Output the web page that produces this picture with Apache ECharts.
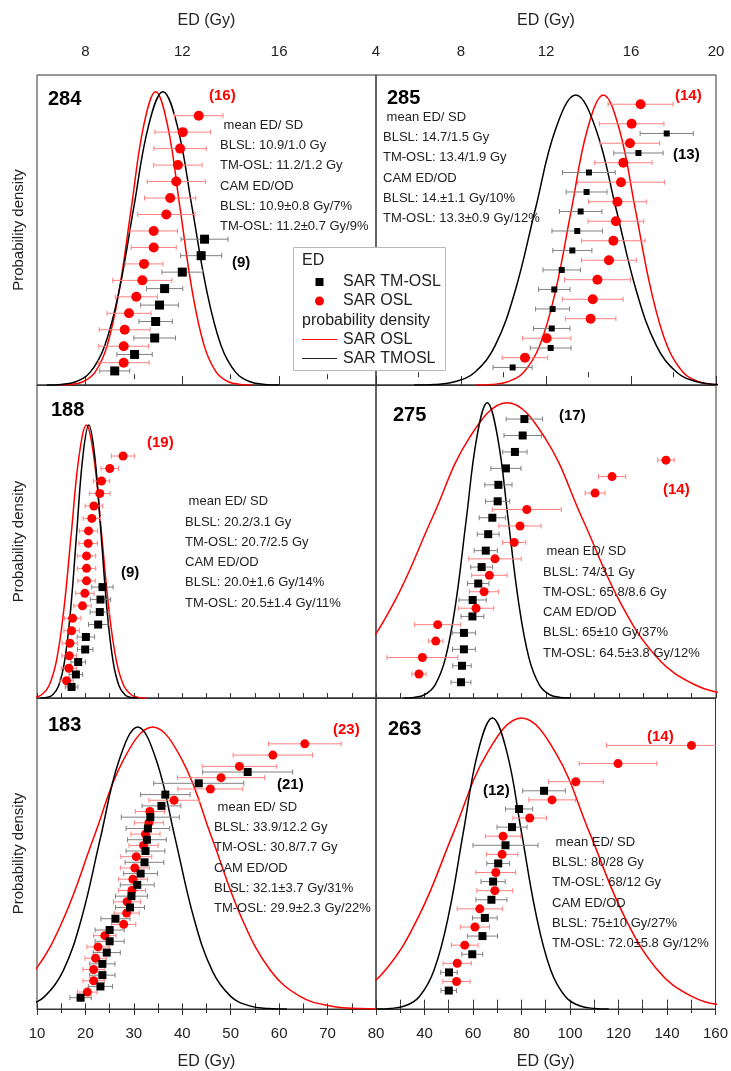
<!DOCTYPE html>
<html><head><meta charset="utf-8">
<script src="https://cdn.jsdelivr.net/npm/echarts@6/dist/echarts.min.js"></script>
<style>html,body{margin:0;padding:0;background:#fff}#c{width:731px;height:1071px}</style>
</head><body><div id="c"></div>
<script>
// ---------------- DATA ----------------
const panelIds = ['284', '285', '188', '275', '183', '263'];

// tick labels
const topTicks284 = [8, 12, 16];
const topTicks285 = [4, 8, 12, 16, 20];
const bottomTicks183 = [10, 20, 30, 40, 50, 60, 70, 80];
const bottomTicks263 = [40, 60, 80, 100, 120, 140, 160];

// Single-grain ED values (Gy), listed top to bottom, with 1-sigma errors
const ed284OSL = [12.68, 12.02, 11.91, 11.82, 11.75, 11.50, 11.34, 10.82, 10.82, 10.42, 10.35, 10.10, 9.80, 9.62, 9.58, 9.58];
const err284OSL = [1.00, 1.15, 1.08, 1.00, 1.20, 1.06, 1.18, 0.98, 0.93, 0.78, 1.22, 0.87, 0.91, 1.05, 1.03, 1.05];
const ed284TM = [12.92, 12.78, 12.00, 11.27, 11.06, 10.90, 10.86, 10.03, 9.21];
const err284TM = [0.97, 0.85, 0.84, 0.75, 0.78, 0.69, 0.86, 0.73, 0.62];

const ed285OSL = [16.45, 16.03, 15.95, 15.64, 15.53, 15.36, 15.29, 15.17, 14.96, 14.42, 14.20, 14.10, 12.03, 11.01];
const err285OSL = [1.53, 1.52, 1.40, 1.35, 2.04, 1.36, 1.31, 1.49, 1.29, 1.55, 1.43, 1.19, 1.14, 1.07];
const ed285TM = [17.68, 16.35, 14.02, 13.91, 13.63, 13.47, 13.24, 12.74, 12.39, 12.31, 12.27, 12.22, 10.43];
const err285TM = [1.25, 1.16, 1.24, 0.96, 1.00, 1.19, 0.92, 0.88, 0.74, 0.80, 0.86, 0.96, 0.92];

const ed188OSL = [27.77, 25.03, 23.32, 22.97, 21.74, 21.32, 20.64, 20.57, 20.23, 20.23, 20.23, 19.88, 19.40, 17.35, 17.14, 16.80, 16.65, 16.59, 16.11];
const err188OSL = [2.4, 1.8, 1.7, 2.1, 1.8, 1.8, 1.9, 1.9, 1.9, 1.9, 1.8, 1.9, 1.8, 1.7, 1.6, 1.6, 1.5, 1.6, 1.4];
const ed188TM = [23.52, 23.11, 22.97, 22.63, 20.09, 19.95, 18.50, 18.03, 17.14];
const err188TM = [2.2, 2.1, 2.0, 2.0, 1.8, 1.6, 1.5, 1.4, 1.3];

const ed275OSL = [139.4, 117.2, 110.2, 82.1, 79.3, 76.9, 69.0, 66.7, 64.5, 61.2, 45.4, 44.6, 39.1, 37.7];
const err275OSL = [3.4, 5.6, 4.1, 14.2, 8.7, 4.8, 10.8, 7.3, 6.0, 7.3, 9.5, 3.0, 14.6, 2.9];
const ed275TM = [81.1, 80.4, 77.2, 73.5, 70.4, 70.1, 67.9, 66.2, 65.2, 63.5, 62.1, 59.8, 59.7, 56.2, 56.2, 55.4, 55.0];
const err275TM = [7.5, 7.7, 5.0, 6.2, 5.6, 5.0, 5.4, 4.5, 4.8, 4.5, 4.4, 5.6, 4.7, 4.8, 4.7, 3.8, 4.1];

const ed183OSL = [65.3, 58.7, 51.8, 48.0, 45.8, 38.3, 33.3, 33.1, 32.4, 32.0, 30.5, 30.2, 29.8, 29.6, 28.6, 28.5, 27.9, 24.0, 22.6, 22.1, 21.7, 21.7, 20.4];
const err183OSL = [7.5, 8.2, 7.7, 9.0, 6.7, 5.2, 3.0, 3.0, 3.0, 3.0, 3.2, 3.0, 3.0, 2.8, 2.8, 2.6, 2.5, 2.3, 2.3, 2.2, 2.2, 2.2, 2.0];
const ed183TM = [53.5, 43.4, 36.5, 35.7, 33.4, 32.9, 32.7, 32.4, 32.2, 31.4, 30.7, 29.5, 29.2, 26.2, 25.0, 25.0, 24.4, 23.5, 23.5, 23.1, 19.0];
const err183TM = [9.3, 9.3, 5.1, 4.0, 6.0, 4.5, 4.0, 4.0, 4.0, 3.5, 3.5, 3.3, 3.0, 3.0, 3.0, 3.0, 2.8, 2.6, 2.6, 2.5, 2.2];

const ed263OSL = [150.1, 119.8, 102.4, 92.6, 83.4, 72.4, 72.0, 69.4, 69.0, 62.8, 60.8, 56.6, 53.5, 53.2];
const err263OSL = [35, 16, 11.3, 9.6, 6.9, 7.3, 6.5, 8.2, 7.4, 9.3, 6.0, 5.5, 5.8, 5.6];
const ed263TM = [89.3, 79.0, 76.1, 73.4, 70.4, 68.3, 67.6, 64.9, 63.9, 59.7, 50.1, 50.0];
const err263TM = [8.8, 5.6, 6.2, 13.4, 4.7, 5.0, 6.4, 5.1, 6.2, 4.3, 3.4, 3.2];

// Probability density curves (ED, relative density)
const pdf284OSL = [[6.9,0],[7.4,0.002],[7.9,0.011],[8.4,0.044],[8.9,0.135],[9.4,0.325],[9.9,0.607],[10.4,0.882],[10.9,1],[11.4,0.882],[11.9,0.607],[12.4,0.325],[12.9,0.135],[13.4,0.044],[13.9,0.011],[14.4,0.002],[14.9,0]];
const pdf284TM = [[6.4,0],[7.0,0.002],[7.6,0.011],[8.2,0.044],[8.8,0.135],[9.4,0.325],[10.0,0.607],[10.6,0.882],[11.2,1],[11.8,0.882],[12.4,0.607],[13.0,0.325],[13.6,0.135],[14.2,0.044],[14.8,0.011],[15.4,0.002],[16.0,0]];
const pdf285OSL = [[8.7,0],[9.45,0.002],[10.2,0.011],[10.95,0.044],[11.7,0.135],[12.45,0.325],[13.2,0.607],[13.95,0.882],[14.7,1],[15.45,0.882],[16.2,0.607],[16.95,0.325],[17.7,0.135],[18.45,0.044],[19.2,0.011],[19.95,0.002],[20.7,0]];
const pdf285TM = [[5.8,0],[6.75,0.002],[7.7,0.011],[8.65,0.044],[9.6,0.135],[10.55,0.325],[11.5,0.607],[12.45,0.882],[13.4,1],[14.35,0.882],[15.3,0.607],[16.25,0.325],[17.2,0.135],[18.15,0.044],[19.1,0.011],[20.05,0.002],[21.0,0]];
const pdf188OSL = [[7.8,0],[9.35,0.002],[10.9,0.011],[12.45,0.044],[14.0,0.135],[15.55,0.325],[17.1,0.607],[18.65,0.882],[20.2,1],[21.75,0.882],[23.3,0.607],[24.85,0.325],[26.4,0.135],[27.95,0.044],[29.5,0.011],[31.05,0.002],[32.6,0]];
const pdf188TM = [[10.7,0],[11.95,0.002],[13.2,0.011],[14.45,0.044],[15.7,0.135],[16.95,0.325],[18.2,0.607],[19.45,0.882],[20.7,1],[21.95,0.882],[23.2,0.607],[24.45,0.325],[25.7,0.135],[26.95,0.044],[28.2,0.011],[29.45,0.002],[30.7,0]];
const pdf275OSL = [[-50,0],[-34.5,0.002],[-19,0.011],[-3.5,0.044],[12,0.135],[27.5,0.325],[43,0.607],[58.5,0.882],[74,1],[89.5,0.882],[105,0.607],[120.5,0.325],[136,0.135],[151.5,0.044],[167,0.011],[182.5,0.002],[198,0]];
const pdf275TM = [[31.4,0],[35.7,0.002],[40.0,0.011],[44.3,0.044],[48.6,0.135],[52.9,0.325],[57.2,0.607],[61.5,0.882],[65.8,1],[70.1,0.882],[74.4,0.607],[78.7,0.325],[83.0,0.135],[87.3,0.044],[91.6,0.011],[95.9,0.002],[100.2,0]];
const pdf183OSL = [[-14.9,0],[-8.8,0.002],[-2.7,0.011],[3.4,0.044],[9.5,0.135],[15.6,0.325],[21.7,0.607],[27.8,0.882],[33.9,1],[40.0,0.882],[46.1,0.607],[52.2,0.325],[58.3,0.135],[64.4,0.044],[70.5,0.011],[76.6,0.002],[82.7,0]];
const pdf183TM = [[0.0,0],[3.85,0.002],[7.7,0.011],[11.55,0.044],[15.4,0.135],[19.25,0.325],[23.1,0.607],[26.95,0.882],[30.8,1],[34.65,0.882],[38.5,0.607],[42.35,0.325],[46.2,0.135],[50.05,0.044],[53.9,0.011],[57.75,0.002],[61.6,0]];
const pdf263OSL = [[-32,0],[-18,0.002],[-4,0.011],[10,0.044],[24,0.135],[38,0.325],[52,0.607],[66,0.882],[80,1],[94,0.882],[108,0.607],[122,0.325],[136,0.135],[150,0.044],[164,0.011],[178,0.002],[192,0]];
const pdf263TM = [[20,0.0],[26,0.002],[32,0.011],[38,0.044],[44,0.135],[50,0.325],[56,0.607],[62,0.882],[68,1],[74,0.882],[80,0.607],[86,0.325],[92,0.135],[98,0.044],[104,0.011],[110,0.002],[116,0]];

// Text
const stats284 = [' mean ED/ SD', 'BLSL: 10.9/1.0 Gy', 'TM-OSL: 11.2/1.2 Gy', 'CAM ED/OD', 'BLSL: 10.9±0.8 Gy/7%', 'TM-OSL: 11.2±0.7 Gy/9%'];
const stats285 = [' mean ED/ SD', 'BLSL: 14.7/1.5 Gy', 'TM-OSL: 13.4/1.9 Gy', 'CAM ED/OD', 'BLSL: 14.±1.1 Gy/10%', 'TM-OSL: 13.3±0.9 Gy/12%'];
const stats188 = [' mean ED/ SD', 'BLSL: 20.2/3.1 Gy', 'TM-OSL: 20.7/2.5 Gy', 'CAM ED/OD', 'BLSL: 20.0±1.6 Gy/14%', 'TM-OSL: 20.5±1.4 Gy/11%'];
const stats275 = [' mean ED/ SD', 'BLSL: 74/31 Gy', 'TM-OSL: 65.8/8.6 Gy', 'CAM ED/OD', 'BLSL: 65±10 Gy/37%', 'TM-OSL: 64.5±3.8 Gy/12%'];
const stats183 = [' mean ED/ SD', 'BLSL: 33.9/12.2 Gy', 'TM-OSL: 30.8/7.7 Gy', 'CAM ED/OD', 'BLSL: 32.1±3.7 Gy/31%', 'TM-OSL: 29.9±2.3 Gy/22%'];
const stats263 = [' mean ED/ SD', 'BLSL: 80/28 Gy', 'TM-OSL: 68/12 Gy', 'CAM ED/OD', 'BLSL: 75±10 Gy/27%', 'TM-OSL: 72.0±5.8 Gy/12%'];

// ---------------- LAYOUT / STYLE ----------------
const FONT = "'Liberation Sans', Arial, Helvetica, sans-serif";
const RED = '#ff0000', BLACK = '#000000';
const RED_ERR = '#ff8080', BLACK_ERR = '#808080';
const LINE = {color: '#333', width: 1};

const panels = [
  {id: panelIds[0], grid: {left: 37, top: 75, width: 339, height: 310}, x: [6, 20], rank: [-0.354, 18.47], pdfMax: 1.057, mk: [10, 9],
   osl: [ed284OSL, err284OSL, pdf284OSL], tm: [ed284TM, err284TM, pdf284TM], stats: stats284, statsPos: [220, 115],
   idPos: [48, 99], counts: [['(16)', RED, 209, 96], ['(9)', BLACK, 232, 263]]},
  {id: panelIds[1], grid: {left: 376, top: 75, width: 340, height: 310}, x: [4, 20], rank: [-0.4, 15.5], pdfMax: 1.069, mk: [10, 6],
   osl: [ed285OSL, err285OSL, pdf285OSL], tm: [ed285TM, err285TM, pdf285TM], stats: stats285, statsPos: [383, 107],
   idPos: [387, 98], counts: [['(14)', RED, 675, 96], ['(13)', BLACK, 673, 155]]},
  {id: panelIds[2], grid: {left: 37, top: 385, width: 339, height: 313}, x: [10, 80], rank: [-0.386, 24.69], pdfMax: 1.147, mk: [9, 8],
   osl: [ed188OSL, err188OSL, pdf188OSL], tm: [ed188TM, err188TM, pdf188TM], stats: stats188, statsPos: [185, 491.5],
   idPos: [51, 410], counts: [['(19)', RED, 147, 443], ['(9)', BLACK, 121, 573]]},
  {id: panelIds[3], grid: {left: 376, top: 385, width: 340, height: 313}, x: [20, 160], rank: [-0.459, 18.57], pdfMax: 1.06, mk: [9, 8],
   osl: [ed275OSL, err275OSL, pdf275OSL], tm: [ed275TM, err275TM, pdf275TM], stats: stats275, statsPos: [543, 541.5],
   idPos: [393, 415], counts: [['(17)', BLACK, 559, 416], ['(14)', RED, 663, 490]]},
  {id: panelIds[4], grid: {left: 37, top: 698, width: 339, height: 313}, x: [10, 80], rank: [-0.5, 27.06], pdfMax: 1.103, mk: [9, 8],
   osl: [ed183OSL, err183OSL, pdf183OSL], tm: [ed183TM, err183TM, pdf183TM], stats: stats183, statsPos: [214, 797],
   idPos: [48, 725], counts: [['(23)', RED, 333, 730], ['(21)', BLACK, 277, 785]]},
  {id: panelIds[5], grid: {left: 376, top: 698, width: 340, height: 313}, x: [20, 160], rank: [-0.515, 16.61], pdfMax: 1.069, mk: [9, 8],
   osl: [ed263OSL, err263OSL, pdf263OSL], tm: [ed263TM, err263TM, pdf263TM], stats: stats263, statsPos: [552, 832],
   idPos: [388, 729], counts: [['(14)', RED, 647, 737], ['(12)', BLACK, 483, 791]]}
];

const labelStyle = {color: '#222', fontSize: 15, fontFamily: FONT};
const nameStyle = {color: '#222', fontSize: 16, fontFamily: FONT};
const none = {show: false};

const xAxes = [];
function addX(o) {
  xAxes.push(Object.assign({type: 'value', splitLine: none, axisLine: none, axisTick: none, axisLabel: none}, o));
  return xAxes.length - 1;
}
const mainX = [];
// 284 top axis
mainX[0] = addX({gridIndex: 0, position: 'top', min: 6, max: 20,
  axisLine: {show: true, lineStyle: LINE},
  axisTick: {show: true, customValues: [8, 12, 16, 20], length: 9, lineStyle: LINE},
  axisLabel: Object.assign({show: true, customValues: topTicks284, margin: 16}, labelStyle),
  name: 'ED (Gy)', nameLocation: 'middle', nameGap: 46, nameTextStyle: nameStyle});
addX({gridIndex: 0, position: 'top', min: 6, max: 20,
  axisTick: {show: true, customValues: [10, 14, 18], length: 5, lineStyle: LINE}});
// 285 top axis
mainX[1] = addX({gridIndex: 1, position: 'top', min: 4, max: 20,
  axisLine: {show: true, lineStyle: LINE},
  axisTick: {show: true, customValues: topTicks285, length: 9, lineStyle: LINE},
  axisLabel: Object.assign({show: true, customValues: topTicks285, margin: 16}, labelStyle),
  name: 'ED (Gy)', nameLocation: 'middle', nameGap: 46, nameTextStyle: nameStyle});
addX({gridIndex: 1, position: 'top', min: 4, max: 20,
  axisTick: {show: true, customValues: [6, 10, 14, 18], length: 5, lineStyle: LINE}});
// middle row bottom axes (ticks only)
mainX[2] = addX({gridIndex: 2, position: 'bottom', min: 10, max: 80, interval: 5,
  axisLine: {show: true, lineStyle: LINE}, axisTick: {show: true, inside: true, length: 5, lineStyle: LINE}});
mainX[3] = addX({gridIndex: 3, position: 'bottom', min: 20, max: 160, interval: 10,
  axisLine: {show: true, lineStyle: LINE}, axisTick: {show: true, inside: true, length: 5, lineStyle: LINE}});
// 183 bottom axis
mainX[4] = addX({gridIndex: 4, position: 'bottom', min: 10, max: 80, interval: 10,
  axisLine: {show: true, lineStyle: LINE},
  axisTick: {show: true, length: 6, lineStyle: LINE},
  minorTick: {show: true, splitNumber: 2, length: 4, lineStyle: LINE},
  axisLabel: Object.assign({show: true, customValues: bottomTicks183, margin: 17}, labelStyle),
  name: 'ED (Gy)', nameLocation: 'middle', nameGap: 45, nameTextStyle: nameStyle});
addX({gridIndex: 4, position: 'top', min: 10, max: 80, interval: 5,
  axisTick: {show: true, inside: true, length: 5, lineStyle: LINE}});
addX({gridIndex: 4, position: 'bottom', min: 10, max: 80, interval: 5,
  axisTick: {show: true, inside: true, length: 4, lineStyle: LINE}});
// 263 bottom axis
mainX[5] = addX({gridIndex: 5, position: 'bottom', min: 20, max: 160, interval: 20,
  axisLine: {show: true, lineStyle: LINE},
  axisTick: {show: true, length: 6, lineStyle: LINE},
  minorTick: {show: true, splitNumber: 2, length: 4, lineStyle: LINE},
  axisLabel: Object.assign({show: true, customValues: bottomTicks263, margin: 17}, labelStyle),
  name: 'ED (Gy)', nameLocation: 'middle', nameGap: 45, nameTextStyle: nameStyle});
addX({gridIndex: 5, position: 'top', min: 20, max: 160, interval: 10,
  axisTick: {show: true, inside: true, length: 5, lineStyle: LINE}});
addX({gridIndex: 5, position: 'bottom', min: 20, max: 160, interval: 10,
  axisTick: {show: true, inside: true, length: 4, lineStyle: LINE}});

const yAxes = [];
panels.forEach((p, i) => {
  const left = (i % 2 === 0);
  yAxes.push({gridIndex: i, type: 'value', min: 0, max: p.pdfMax, show: left,
    axisLine: none, axisTick: none, axisLabel: none, splitLine: none,
    name: left ? 'Probability density' : '', nameLocation: 'middle', nameGap: 11, nameRotate: 90,
    nameTextStyle: {color: '#222', fontSize: 15, fontFamily: FONT}});
  yAxes.push({gridIndex: i, type: 'value', min: p.rank[0], max: p.rank[1], show: false});
});

function makeErr(color) {
  return function (params, api) {
    const v = api.value(0), e = api.value(1), r = api.value(2);
    const a = api.coord([v - e, r]), b = api.coord([v + e, r]);
    const h = 2.5, st = {stroke: color, lineWidth: 1};
    return {type: 'group', children: [
      {type: 'line', shape: {x1: a[0], y1: a[1], x2: b[0], y2: b[1]}, style: st},
      {type: 'line', shape: {x1: a[0], y1: a[1] - h, x2: a[0], y2: a[1] + h}, style: st},
      {type: 'line', shape: {x1: b[0], y1: b[1] - h, x2: b[0], y2: b[1] + h}, style: st}
    ]};
  };
}

const series = [];
panels.forEach((p, i) => {
  const xi = mainX[i], yPdf = 2 * i, yRank = 2 * i + 1;
  const [oEd, oErr, oPdf] = p.osl, [tEd, tErr, tPdf] = p.tm;
  const nO = oEd.length, nT = tEd.length;
  const oRank = oEd.map((v, k) => nO - k);
  const tRank = tEd.map((v, k) => nT - k - 0.5);
  series.push({type: 'line', name: 'SAR OSL', xAxisIndex: xi, yAxisIndex: yPdf, data: oPdf, smooth: 0.4,
    symbol: 'none', clip: true, lineStyle: {color: RED, width: 1.5}, z: 2, silent: true});
  series.push({type: 'line', name: 'SAR TMOSL', xAxisIndex: xi, yAxisIndex: yPdf, data: tPdf, smooth: 0.4,
    symbol: 'none', clip: true, lineStyle: {color: BLACK, width: 1.5}, z: 2, silent: true});
  series.push({type: 'custom', xAxisIndex: xi, yAxisIndex: yRank, clip: true, z: 3, silent: true,
    renderItem: makeErr(RED_ERR), encode: {x: 0, y: 2},
    data: oEd.map((v, k) => [v, oErr[k], oRank[k]])});
  series.push({type: 'custom', xAxisIndex: xi, yAxisIndex: yRank, clip: true, z: 3, silent: true,
    renderItem: makeErr(BLACK_ERR), encode: {x: 0, y: 2},
    data: tEd.map((v, k) => [v, tErr[k], tRank[k]])});
  series.push({type: 'scatter', name: 'SAR OSL', xAxisIndex: xi, yAxisIndex: yRank, symbol: 'circle',
    symbolSize: p.mk[0], itemStyle: {color: RED, opacity: 1}, z: 5, silent: true,
    data: oEd.map((v, k) => [v, oRank[k]])});
  series.push({type: 'scatter', name: 'SAR TM-OSL', xAxisIndex: xi, yAxisIndex: yRank, symbol: 'rect',
    symbolSize: p.mk[1], itemStyle: {color: BLACK, opacity: 1}, z: 5, silent: true,
    data: tEd.map((v, k) => [v, tRank[k]])});
});

const graphic = [];
panels.forEach(p => {
  graphic.push({type: 'text', z: 50, style: {x: p.idPos[0], y: p.idPos[1], text: p.id, fill: '#000',
    font: 'bold 20px ' + FONT, textAlign: 'left', textVerticalAlign: 'middle'}});
  p.counts.forEach(c => graphic.push({type: 'text', z: 50, style: {x: c[2], y: c[3], text: c[0], fill: c[1],
    font: 'bold 15px ' + FONT, textAlign: 'left', textVerticalAlign: 'middle'}}));
  graphic.push({type: 'text', z: 50, style: {x: p.statsPos[0], y: p.statsPos[1], text: p.stats.join('\n'),
    fill: '#222', font: '13px ' + FONT, lineHeight: 20.3, textAlign: 'left', textVerticalAlign: 'top'}});
});
// legend box
const LG = {x: 293.5, y: 247.5, w: 152, h: 123};
graphic.push({type: 'rect', z: 100, shape: {x: LG.x, y: LG.y, width: LG.w, height: LG.h},
  style: {fill: '#fff', stroke: '#b8b8b8', lineWidth: 1}});
const legendRows = [
  ['ED', 302, 261, null],
  ['SAR TM-OSL', 343, 282, 'sq'],
  ['SAR OSL', 343, 301, 'dot'],
  ['probability density', 302, 321, null],
  ['SAR OSL', 343, 339.5, 'red'],
  ['SAR TMOSL', 343, 358.5, 'blk']
];
legendRows.forEach(r => {
  graphic.push({type: 'text', z: 101, style: {x: r[1], y: r[2], text: r[0], fill: '#222',
    font: '16px ' + FONT, textAlign: 'left', textVerticalAlign: 'middle'}});
  if (r[3] === 'sq') graphic.push({type: 'rect', z: 101, shape: {x: 315.5, y: r[2] - 4, width: 8, height: 8}, style: {fill: BLACK}});
  if (r[3] === 'dot') graphic.push({type: 'circle', z: 101, shape: {cx: 319.5, cy: r[2], r: 4.5}, style: {fill: RED}});
  if (r[3] === 'red') graphic.push({type: 'line', z: 101, shape: {x1: 302, y1: r[2], x2: 337, y2: r[2]}, style: {stroke: RED, lineWidth: 1.2}});
  if (r[3] === 'blk') graphic.push({type: 'line', z: 101, shape: {x1: 302, y1: r[2], x2: 337, y2: r[2]}, style: {stroke: '#222', lineWidth: 1.2}});
});

const option = {
  animation: false,
  backgroundColor: '#fff',
  textStyle: {fontFamily: FONT},
  grid: panels.map(p => Object.assign({show: true, borderColor: '#333', borderWidth: 1, backgroundColor: 'transparent', containLabel: false}, p.grid)),
  xAxis: xAxes,
  yAxis: yAxes,
  series: series,
  graphic: graphic
};
const chart = echarts.init(document.getElementById('c'), null, {renderer: 'canvas'});
chart.setOption(option);
</script></body></html>
